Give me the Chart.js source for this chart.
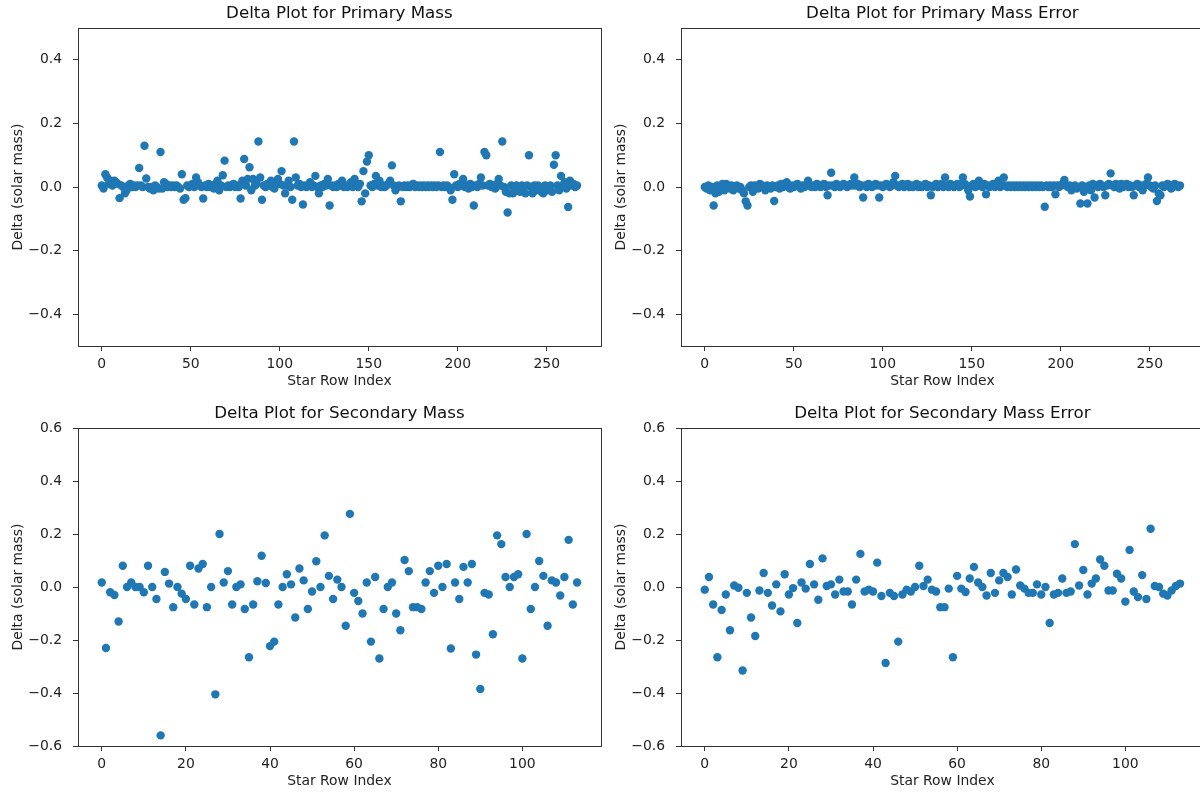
<!DOCTYPE html>
<html>
<head>
<meta charset="utf-8">
<title>Delta Plots</title>
<script src="https://cdn.jsdelivr.net/npm/chart.js@4.4.1/dist/chart.umd.min.js"></script>
<style>
body { margin: 0; background: #fff; overflow: hidden; width: 1200px; height: 792px; position: relative; }
canvas { position: absolute; }
</style>
</head>
<body>
<canvas id="primaryChart" width="605" height="396" style="left:0;top:0"></canvas>
<canvas id="primaryErrChart" width="605" height="396" style="left:603px;top:0"></canvas>
<canvas id="secondaryChart" width="605" height="396" style="left:0;top:400px"></canvas>
<canvas id="secondaryErrChart" width="605" height="396" style="left:603px;top:400px"></canvas>
<script>
// deltas per star row
var primaryMass = [
    0.005, -0.005, 0.04, 0.03, 0.01, 0.02, 0.005, 0.02, 0.015, 0.01,
    -0.035, 0.005, 0.0, -0.02, -0.01, 0.005, 0.01, 0.0, 0.005, 0.0,
    0.005, 0.06, 0.005, 0.0, 0.13, 0.027, 0.0, -0.005, 0.0, -0.01,
    0.005, 0.0, -0.005, 0.11, -0.005, 0.015, 0.01, 0.0, 0.005, 0.0,
    0.005, 0.0, 0.005, 0.0, -0.005, 0.04, -0.04, -0.035, 0.005, 0.0,
    0.005, 0.01, 0.0, 0.03, 0.015, 0.005, 0.0, -0.036, 0.005, 0.0,
    0.01, 0.0, 0.005, -0.005, 0.01, 0.02, -0.01, 0.005, 0.037, 0.083,
    0.0, 0.005, 0.0, 0.005, 0.01, 0.0, 0.005, 0.0, -0.036, 0.02,
    0.088, 0.005, 0.025, 0.062, -0.01, 0.025, 0.005, 0.01, 0.143, 0.03,
    -0.04, 0.005, 0.0, 0.01, 0.005, 0.02, 0.0, -0.005, 0.01, 0.025,
    0.01, 0.05, 0.005, -0.02, 0.005, 0.02, 0.0, -0.04, 0.143, 0.03,
    0.005, 0.01, 0.0, -0.055, 0.005, 0.0, 0.005, 0.015, 0.0, 0.005,
    0.035, 0.0, -0.02, 0.005, 0.0, 0.01, 0.005, 0.025, -0.058, 0.005,
    0.0, 0.005, 0.0, 0.01, 0.005, 0.02, 0.0, 0.005, 0.0, 0.005,
    0.015, 0.0, 0.025, 0.005, 0.0, 0.01, -0.045, 0.05, -0.02, 0.08,
    0.10, 0.005, 0.0, 0.01, 0.035, 0.005, 0.02, 0.0, 0.005, 0.0,
    0.005, 0.01, 0.02, 0.068, 0.005, -0.01, 0.0, 0.005, -0.045, 0.0,
    0.005, 0.0, 0.005, 0.0, 0.005, 0.01, 0.0, 0.005, 0.0, 0.005,
    0.0, 0.005, 0.0, 0.005, 0.0, 0.005, 0.0, 0.005, 0.0, 0.005,
    0.11, 0.0, 0.005, 0.0, 0.005, 0.0, -0.01, -0.04, 0.04, 0.005,
    0.0, 0.01, 0.005, 0.025, 0.0, 0.005, -0.005, 0.01, 0.0, -0.058,
    0.005, 0.0, 0.01, 0.03, 0.005, 0.11, 0.10, 0.005, 0.01, 0.0,
    0.005, -0.005, 0.01, 0.025, 0.005, 0.143, 0.0, -0.015, -0.08, -0.02,
    0.005, -0.02, 0.0, 0.005, -0.01, -0.015, 0.005, 0.0, -0.02, 0.005,
    0.10, 0.0, -0.02, 0.005, -0.01, 0.005, 0.0, -0.015, -0.02, 0.005,
    0.0, -0.01, 0.005, -0.015, 0.07, 0.10, 0.005, -0.01, 0.035, 0.005,
    0.015, -0.005, -0.063, 0.02, 0.005, 0.01, 0.0, 0.005
]

var primaryMassErr = [
    0.0, -0.005, 0.005, -0.01, 0.0, -0.058, -0.02, 0.005, -0.015, -0.005,
    0.01, -0.01, 0.01, 0.0, -0.005, 0.005, -0.01, 0.0, 0.005, -0.005,
    0.0, -0.01, -0.02, -0.045, -0.058, 0.0, 0.005, -0.015, 0.005, 0.0,
    -0.005, 0.01, 0.005, 0.0, -0.01, 0.005, 0.0, -0.005, 0.005, -0.044,
    0.0, 0.005, -0.005, 0.01, 0.0, 0.005, 0.015, 0.0, -0.005, 0.005,
    0.0, 0.005, 0.01, 0.0, -0.005, 0.005, 0.0, 0.005, 0.02, 0.005,
    0.0, 0.005, 0.0, 0.01, 0.005, 0.0, 0.005, 0.01, 0.0, -0.026,
    0.005, 0.045, 0.005, 0.0, 0.01, 0.005, 0.0, 0.005, 0.01, 0.005,
    0.0, 0.005, 0.01, 0.005, 0.03, 0.005, 0.01, 0.0, 0.005, -0.033,
    0.005, 0.0, 0.01, 0.005, 0.0, 0.005, 0.01, 0.005, -0.033, 0.005,
    0.0, 0.005, 0.01, 0.005, 0.0, 0.005, 0.015, 0.035, 0.005, 0.0,
    0.005, 0.01, 0.0, 0.005, 0.01, 0.0, 0.005, 0.0, 0.005, 0.01,
    0.0, 0.005, 0.0, 0.005, 0.01, 0.0, 0.005, -0.026, 0.0, 0.005,
    0.01, 0.0, 0.005, 0.01, 0.0, 0.03, 0.005, 0.0, 0.01, 0.005,
    0.0, 0.005, 0.01, 0.0, 0.005, 0.03, 0.01, 0.005, -0.01, -0.03,
    0.005, 0.01, 0.0, 0.005, 0.02, 0.005, 0.0, 0.01, -0.023, 0.005,
    0.0, 0.005, 0.01, 0.0, 0.005, 0.02, 0.0, 0.005, 0.03, 0.005,
    0.0, 0.005, 0.0, 0.005, 0.0, 0.005, 0.0, 0.005, 0.0, 0.005,
    0.0, 0.005, 0.0, 0.005, 0.0, 0.005, 0.0, 0.005, 0.0, 0.005,
    0.0, -0.062, 0.005, 0.0, 0.005, 0.0, 0.005, -0.023, 0.005, 0.0,
    0.005, 0.01, 0.022, 0.005, 0.0, 0.005, -0.01, 0.0, 0.005, -0.005,
    0.0, -0.052, 0.005, -0.015, 0.0, -0.052, 0.005, -0.01, 0.01, -0.033,
    0.005, 0.0, 0.01, 0.005, 0.0, -0.026, 0.005, 0.01, 0.043, 0.005,
    0.0, 0.01, 0.005, -0.005, 0.01, 0.0, 0.005, 0.01, 0.0, 0.005,
    0.0, -0.026, 0.005, 0.01, 0.0, 0.005, -0.01, 0.005, 0.01, 0.03,
    0.005, 0.0, -0.005, 0.005, -0.044, -0.02, -0.026, 0.005, 0.0, 0.005,
    0.01, 0.005, -0.005, 0.0, 0.01, 0.005, 0.0, 0.005
]

var secondaryMass = [
    0.017, -0.23, -0.02, -0.03, -0.13, 0.08, 0.0, 0.017, 0.0, 0.0,
    -0.02, 0.08, 0.0, -0.045, -0.56, 0.057, 0.013, -0.076, 0.0, -0.025,
    -0.045, 0.08, -0.066, 0.07, 0.087, -0.076, 0.0, -0.405, 0.2, 0.017,
    0.06, -0.066, 0.0, 0.01, -0.083, -0.265, -0.066, 0.022, 0.118, 0.015,
    -0.223, -0.206, -0.066, 0.0, 0.048, 0.01, -0.115, 0.07, 0.025, -0.083,
    -0.017, 0.097, 0.0, 0.195, 0.042, -0.045, 0.028, 0.0, -0.146, 0.276,
    -0.022, -0.053, -0.10, 0.017, -0.206, 0.038, -0.27, -0.083, 0.0, 0.017,
    -0.10, -0.163, 0.102, 0.06, -0.076, -0.076, -0.083, 0.017, 0.06, -0.022,
    0.08, 0.0, 0.087, -0.232, 0.017, -0.045, 0.076, 0.017, 0.087, -0.255,
    -0.385, -0.022, -0.028, -0.178, 0.195, 0.162, 0.038, 0.0, 0.038, 0.048,
    -0.27, 0.2, -0.083, 0.0, 0.098, 0.042, -0.146, 0.025, 0.017, -0.032,
    0.038, 0.178, -0.066, 0.017
]

var secondaryMassErr = [
    -0.01, 0.038, -0.066, -0.265, -0.087, -0.028, -0.163, 0.006, -0.003, -0.315,
    -0.022, -0.115, -0.185, -0.013, 0.053, -0.022, -0.07, 0.01, -0.092, 0.048,
    -0.028, -0.004, -0.136, 0.017, -0.006, 0.087, 0.01, -0.048, 0.108, 0.004,
    0.01, -0.028, 0.028, -0.017, -0.017, -0.066, 0.028, 0.125, -0.017, -0.01,
    -0.017, 0.092, -0.034, -0.287, -0.022, -0.034, -0.206, -0.028, -0.01, -0.017,
    0.0, 0.08, 0.004, 0.028, -0.01, -0.017, -0.076, -0.076, -0.006, -0.265,
    0.042, -0.006, -0.019, 0.032, 0.076, 0.017, 0.0, -0.032, 0.053, -0.022,
    0.025, 0.053, 0.038, -0.028, 0.066, 0.006, -0.006, -0.022, -0.022, 0.01,
    -0.028, 0.0, -0.136, -0.028, -0.022, 0.032, -0.022, -0.017, 0.162, 0.006,
    0.064, -0.028, 0.013, 0.032, 0.104, 0.08, -0.013, -0.013, 0.05, 0.032,
    -0.055, 0.14, -0.017, -0.038, 0.045, -0.045, 0.22, 0.004, 0.0, -0.025,
    -0.032, -0.013, 0.004, 0.013
]

var topXTicks = [0, 50, 100, 150, 200, 250]
var topYTicks = [-0.4, -0.2, 0, 0.2, 0.4]
var bottomXTicks = [0, 20, 40, 60, 80, 100]
var bottomYTicks = [-0.6, -0.4, -0.2, 0, 0.2, 0.4, 0.6]

Chart.defaults.font.family = "'DejaVu Sans', sans-serif"
Chart.defaults.font.size = 13.9
Chart.defaults.color = '#222'

// matplotlib draws a box round every axes
const framePlugin = {
    id: 'frame',
    afterDraw(chart) {
        const a = chart.chartArea
        const c = chart.ctx
        c.save()
        c.strokeStyle = '#333'
        c.lineWidth = 1
        c.strokeRect(Math.round(a.left) + 0.5, Math.round(a.top) + 0.5,
            Math.round(a.right - a.left), Math.round(a.bottom - a.top))
        c.restore()
    }
}

function makeChart(id, title, values, xTicks, yTicks, yMin, yMax) {
    const n = values.length - 1
    const points = values.map((v, i) => ({ x: i, y: v }))
    return new Chart(document.getElementById(id), {
        type: 'scatter',
        data: {
            datasets: [{
                data: points,
                backgroundColor: '#1f77b4',
                borderWidth: 0,
                pointRadius: 4.2,
                pointHoverRadius: 4.2
            }]
        },
        options: {
            responsive: false,
            animation: false,
            events: [],
            layout: { padding: { left: 0, right: 4, top: 0, bottom: 0 } },
            plugins: {
                legend: { display: false },
                tooltip: { enabled: false },
                title: {
                    display: true,
                    text: title,
                    fullSize: false,
                    color: '#111',
                    font: { size: 16.7, weight: 'normal' },
                    padding: { top: 4, bottom: 4 }
                }
            },
            scales: {
                x: {
                    type: 'linear',
                    min: -0.05 * n,
                    max: 1.05 * n,
                    afterBuildTicks: (axis) => { axis.ticks = xTicks.map(v => ({ value: v })) },
                    afterFit: (axis) => { axis.height = 50 },
                    grid: { drawOnChartArea: false, drawTicks: true, tickLength: 5, tickColor: '#333' },
                    border: { display: false },
                    ticks: { padding: 5, maxRotation: 0, callback: (v) => String(v) },
                    title: { display: true, text: 'Star Row Index', padding: { top: 0, bottom: 6 } }
                },
                y: {
                    min: yMin,
                    max: yMax,
                    afterBuildTicks: (axis) => { axis.ticks = yTicks.map(v => ({ value: v })) },
                    afterFit: (axis) => { axis.width = 78 },
                    grid: { drawOnChartArea: false, drawTicks: true, tickLength: 5, tickColor: '#333' },
                    border: { display: false },
                    ticks: { padding: 11, callback: (v) => Number(v).toFixed(1).replace('-', '\u2212') },
                    title: { display: true, text: 'Delta (solar mass)', padding: { top: 10, bottom: 0 } }
                }
            }
        },
        plugins: [framePlugin]
    })
}

var primary_chart = makeChart('primaryChart', 'Delta Plot for Primary Mass', primaryMass, topXTicks, topYTicks, -0.5, 0.5)
var primary_err_chart = makeChart('primaryErrChart', 'Delta Plot for Primary Mass Error', primaryMassErr, topXTicks, topYTicks, -0.5, 0.5)
var secondary_chart = makeChart('secondaryChart', 'Delta Plot for Secondary Mass', secondaryMass, bottomXTicks, bottomYTicks, -0.6, 0.6)
var secondary_err_chart = makeChart('secondaryErrChart', 'Delta Plot for Secondary Mass Error', secondaryMassErr, bottomXTicks, bottomYTicks, -0.6, 0.6)
</script>
</body>
</html>
